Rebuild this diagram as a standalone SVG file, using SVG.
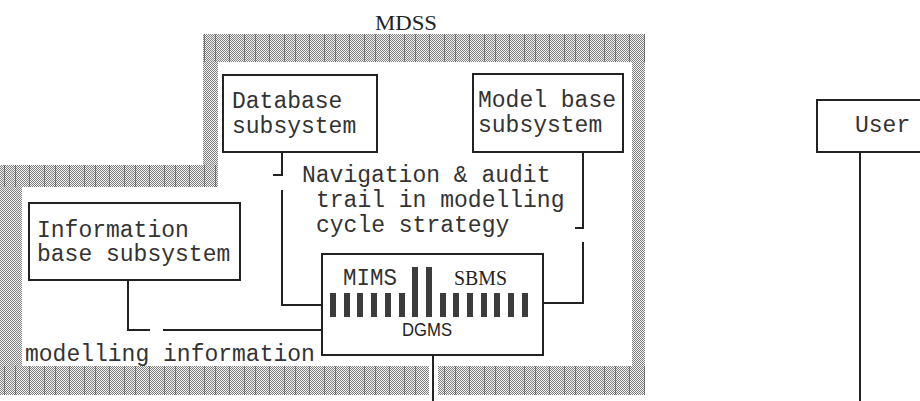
<svg xmlns="http://www.w3.org/2000/svg" width="920" height="401" viewBox="0 0 920 401">
  <style>
    .box { fill: #ffffff; stroke: #222222; stroke-width: 2; }
    .mono { font-family: "Liberation Mono", "Courier New", monospace; font-size: 23px; fill: #333333; }
    .serif { font-family: "Liberation Serif", "Times New Roman", serif; fill: #222222; }
    .sans { font-family: "Liberation Sans", Arial, sans-serif; fill: #222222; }
    .wire { fill: none; stroke: #222222; stroke-width: 2; }
    .bar { fill: #3c3c3c; }
  </style>
  <defs>
    <!-- fine dot screen used for the system boundary -->
    <pattern id="screen" width="2" height="2" patternUnits="userSpaceOnUse">
      <rect width="2" height="2" fill="#f2f2f2"/>
      <rect width="1" height="1" fill="#808080"/>
      <rect x="1" y="1" width="1" height="1" fill="#808080"/>
    </pattern>
    <!-- uneven vertical rules over the horizontal boundary bands -->
    <pattern id="rules" width="40" height="4" patternUnits="userSpaceOnUse">
      <rect x="4" y="0" width="1" height="4" fill="#333333" fill-opacity="0.5"/>
      <rect x="15" y="0" width="1" height="4" fill="#333333" fill-opacity="0.5"/>
      <rect x="29" y="0" width="1" height="4" fill="#333333" fill-opacity="0.5"/>
    </pattern>
  </defs>

  <rect width="920" height="401" fill="#ffffff"/>

  <!-- MDSS boundary -->
  <g id="mdss-boundary">
    <path fill="url(#screen)" fill-rule="evenodd"
          d="M203,34 H645 V395 H0 V165 H203 Z M218,62 V187 H22 V366 H632 V62 Z"/>
    <rect x="203" y="34" width="442" height="28" fill="url(#rules)"/>
    <rect x="0" y="165" width="218" height="22" fill="url(#rules)"/>
    <rect x="0" y="366" width="645" height="29" fill="url(#rules)"/>
    <rect x="429" y="366" width="9" height="29" fill="#ffffff"/>
    <text class="serif" x="375" y="30" font-size="20" textLength="62" lengthAdjust="spacingAndGlyphs">MDSS</text>
  </g>

  <!-- connectors -->
  <g id="connectors">
    <path class="wire" d="M282,152 V175 H273"/>
    <path class="wire" d="M282,190 V305 H322"/>
    <path class="wire" d="M583,152 V228 H575"/>
    <path class="wire" d="M583,242 V303 H543"/>
    <path class="wire" d="M128,280 V330 H150"/>
    <path class="wire" d="M163,330 H322"/>
    <path class="wire" d="M433,355 V401"/>
    <path class="wire" d="M860,152 V401"/>
  </g>

  <g id="database-subsystem">
    <rect class="box" x="223" y="75" width="154" height="77"/>
    <text class="mono" x="232" y="108">Database</text>
    <text class="mono" x="232" y="133">subsystem</text>
  </g>

  <g id="model-base-subsystem">
    <rect class="box" x="473" y="74" width="150" height="78"/>
    <text class="mono" x="478" y="107">Model base</text>
    <text class="mono" x="478" y="132">subsystem</text>
  </g>

  <g id="information-base-subsystem">
    <rect class="box" x="29" y="203" width="211" height="77"/>
    <text class="mono" x="37" y="237">Information</text>
    <text class="mono" x="37" y="261">base subsystem</text>
  </g>

  <g id="navigation-label">
    <text class="mono" x="302" y="182">Navigation &amp; audit</text>
    <text class="mono" x="316" y="207">trail in modelling</text>
    <text class="mono" x="316" y="232">cycle strategy</text>
  </g>

  <g id="dgms">
    <rect class="box" x="322" y="254" width="221" height="101"/>
    <g id="dgms-bars">
      <rect class="bar" x="330" y="293" width="6" height="24"/>
      <rect class="bar" x="344" y="293" width="6" height="24"/>
      <rect class="bar" x="357" y="293" width="6" height="24"/>
      <rect class="bar" x="371" y="293" width="6" height="24"/>
      <rect class="bar" x="385" y="293" width="6" height="24"/>
      <rect class="bar" x="399" y="293" width="6" height="24"/>
      <rect class="bar" x="412" y="267" width="6" height="50"/>
      <rect class="bar" x="426" y="267" width="6" height="50"/>
      <rect class="bar" x="440" y="293" width="6" height="24"/>
      <rect class="bar" x="453" y="293" width="6" height="24"/>
      <rect class="bar" x="467" y="293" width="6" height="24"/>
      <rect class="bar" x="481" y="293" width="6" height="24"/>
      <rect class="bar" x="494" y="293" width="6" height="24"/>
      <rect class="bar" x="508" y="293" width="6" height="24"/>
      <rect class="bar" x="522" y="293" width="6" height="24"/>
    </g>
    <text class="mono" x="343" y="285" font-size="22" textLength="54" lengthAdjust="spacingAndGlyphs">MIMS</text>
    <text class="serif" x="454" y="285" font-size="20" textLength="53" lengthAdjust="spacingAndGlyphs">SBMS</text>
    <text class="sans" x="402" y="336" font-size="18" textLength="50" lengthAdjust="spacingAndGlyphs">DGMS</text>
  </g>

  <g id="modelling-information-label">
    <text class="mono" x="25" y="361">modelling information</text>
  </g>

  <g id="user">
    <rect class="box" x="817" y="100" width="110" height="52"/>
    <text class="mono" x="855" y="132">User</text>
  </g>
</svg>
